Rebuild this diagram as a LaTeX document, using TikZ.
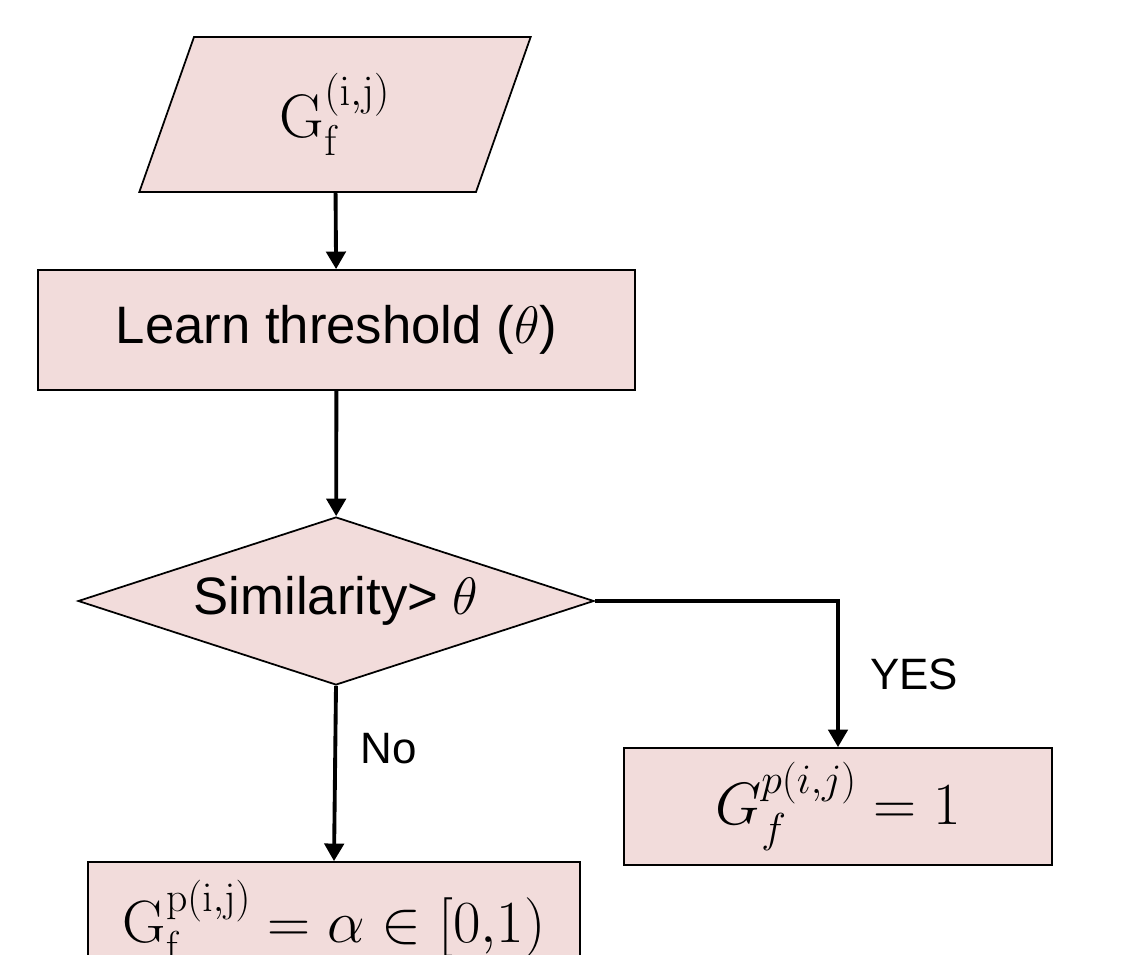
\RequirePackage{fix-cm}
\documentclass[tikz,border=0pt]{standalone}
\usepackage{amsmath,amssymb}
\usepackage[no-math]{fontspec}
\setmainfont{Liberation Sans}
\usepackage{tikz}
\usetikzlibrary{arrows.meta, shapes.geometric, positioning}

\definecolor{boxpink}{RGB}{242,220,219}

\begin{document}
\begin{tikzpicture}[x=0.02cm, y=-0.02cm,
    >={Triangle[width=11pt, length=10pt]},
    flowline/.style={->, line width=2.2pt},
    box/.style={rectangle, draw, line width=1pt, fill=boxpink, inner sep=0pt,
                font=\fontsize{30}{36}\selectfont},
    inbox/.style={trapezium, trapezium left angle=75.5, trapezium right angle=104.5,
                trapezium stretches=true, draw, line width=1pt, fill=boxpink,
                minimum width=7.88cm, minimum height=3.1cm, inner sep=0pt,
                font=\fontsize{35}{40}\selectfont},
    decision/.style={diamond, draw, line width=1pt, fill=boxpink, aspect=3.07,
                minimum width=10.32cm, minimum height=3.36cm, inner sep=0pt,
                font=\fontsize{30}{36}\selectfont},
    mathbox/.style={box, font=\fontsize{34}{40}\selectfont},
    lbl/.style={font=\fontsize{25}{30}\selectfont}]

    \useasboundingbox (0,0) rectangle (1125,955);
    \clip (0,0) rectangle (1125,955);

    \node[inbox] (input) at (335,114.5) {$\mathrm{G}_{\mathrm{f}}^{(\mathrm{i},\mathrm{j})}$};
    \node[box, minimum width=11.94cm, minimum height=2.4cm] (learn) at (336.5,330) {Learn threshold ($\theta$)};
    \node[decision] (simil) at (336,601) {Similarity> $\theta$};
    \node[mathbox, minimum width=8.56cm, minimum height=2.34cm] (yesbox) at (838,806.5) {$G_f^{p(i,j)} = 1$};
    \node[mathbox, minimum width=9.84cm, minimum height=2.32cm] (nobox) at (334,920) {\raisebox{6pt}{$\mathrm{G}_{\mathrm{f}}^{\mathrm{p}(\mathrm{i},\mathrm{j})} = \alpha \in [0{,}1)$}};

    \draw[flowline] (input) -- (learn);
    \draw[flowline] (learn) -- (simil);
    \draw[flowline] (simil.east) -| (yesbox.north) node[lbl, pos=0.75, right=14pt] {YES};
    \draw[flowline] (simil.south) -- (nobox.north) node[lbl, midway, right=10pt, yshift=14pt] {No};
\end{tikzpicture}
\end{document}
